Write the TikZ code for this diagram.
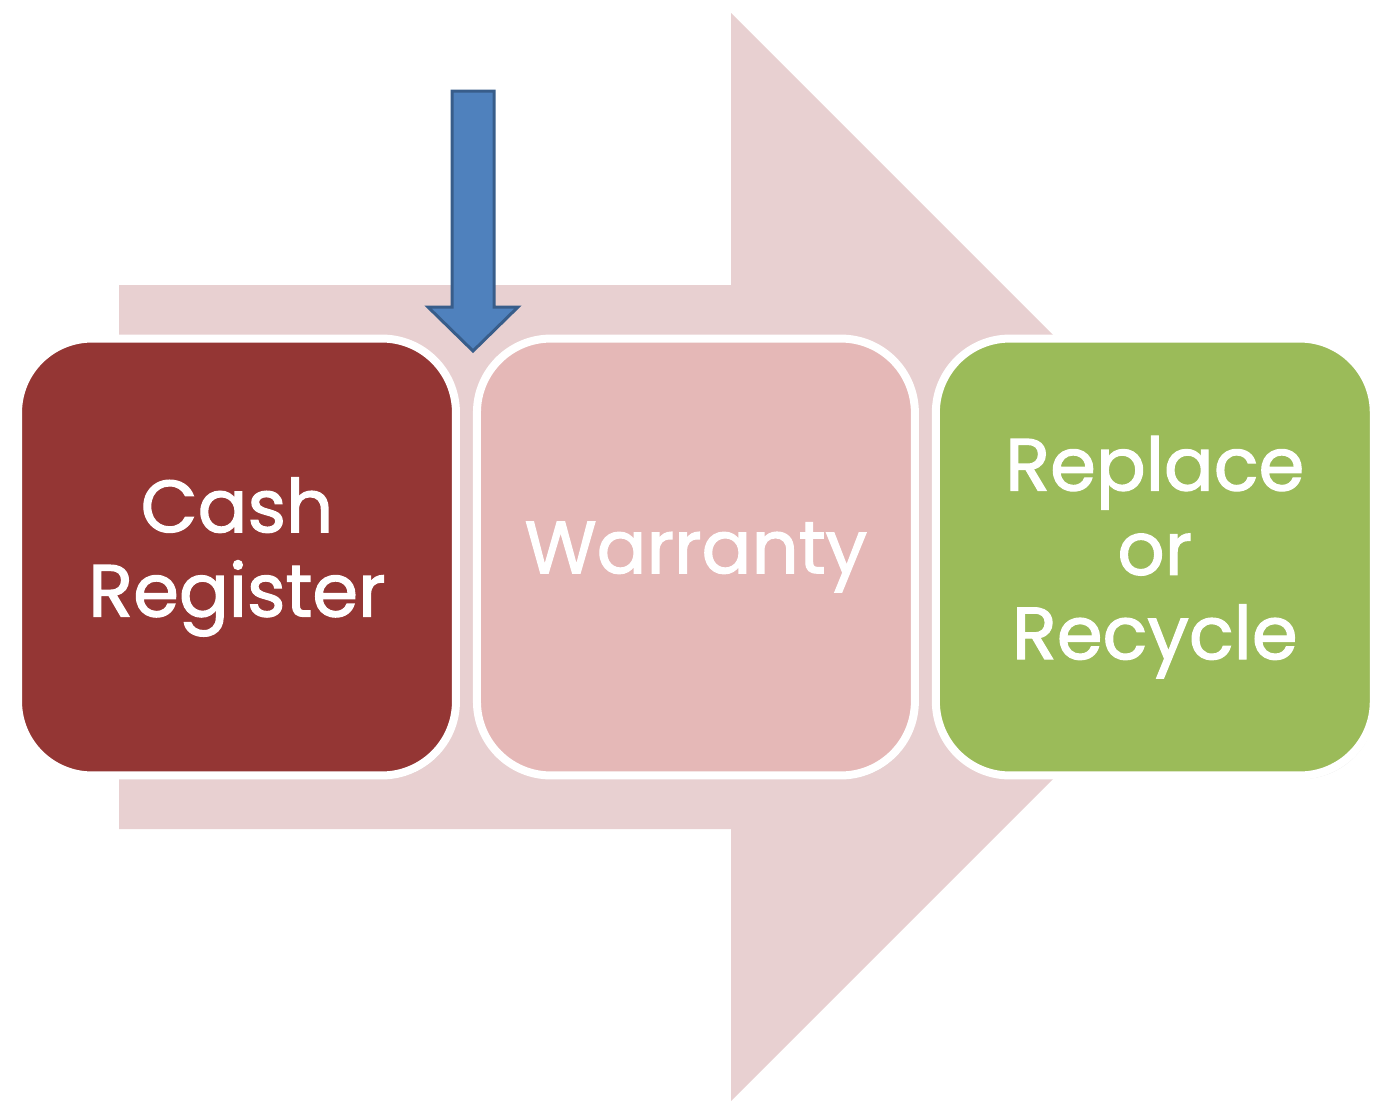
\documentclass[tikz,border=0pt]{standalone}
\usepackage{fontspec}
\setmainfont{Poppins}[FakeBold=1.6]
\usetikzlibrary{positioning,shadows}
\definecolor{flowpink}{HTML}{E8D0D1}
\definecolor{cashred}{HTML}{943634}
\definecolor{warrpink}{HTML}{E5B8B7}
\definecolor{recgreen}{HTML}{9BBB59}
\definecolor{pointblue}{HTML}{4F81BD}
\definecolor{pointedge}{HTML}{385D8A}
\tikzset{
  stagebox/.style={draw=white,line width=0.16cm,rounded corners=1.48cm,
    minimum width=8.76cm,minimum height=8.74cm,text=white,align=center,
    font=\fontsize{42}{48}\selectfont,
    drop shadow={shadow xshift=0.04cm,shadow yshift=-0.07cm,opacity=0.25}},
}

\begin{document}
\begin{tikzpicture}[x=0.02cm,y=-0.02cm,node distance=0.26cm]
    \useasboundingbox (0,0) rectangle (1383,1102);
    % big flow arrow in the back
    \fill[flowpink] (119,285) -- (731,285) -- (731,13) -- (1275,557)
        -- (731,1101) -- (731,829) -- (119,829) -- cycle;
    % pointer
    \draw[pointedge,fill=pointblue,line width=0.06cm,line join=miter]
        (452,91) -- (494,91) -- (494,307) -- (518,307) -- (473,351)
        -- (428,307) -- (452,307) -- cycle;
    \node[stagebox,fill=cashred] (cash) at (237,557) {Cash\\Register};
    \node[stagebox,fill=warrpink,right=of cash] (warr) {Warranty};
    \node[stagebox,fill=recgreen,right=of warr] (recy) {Replace\\or\\Recycle};
\end{tikzpicture}
\end{document}
